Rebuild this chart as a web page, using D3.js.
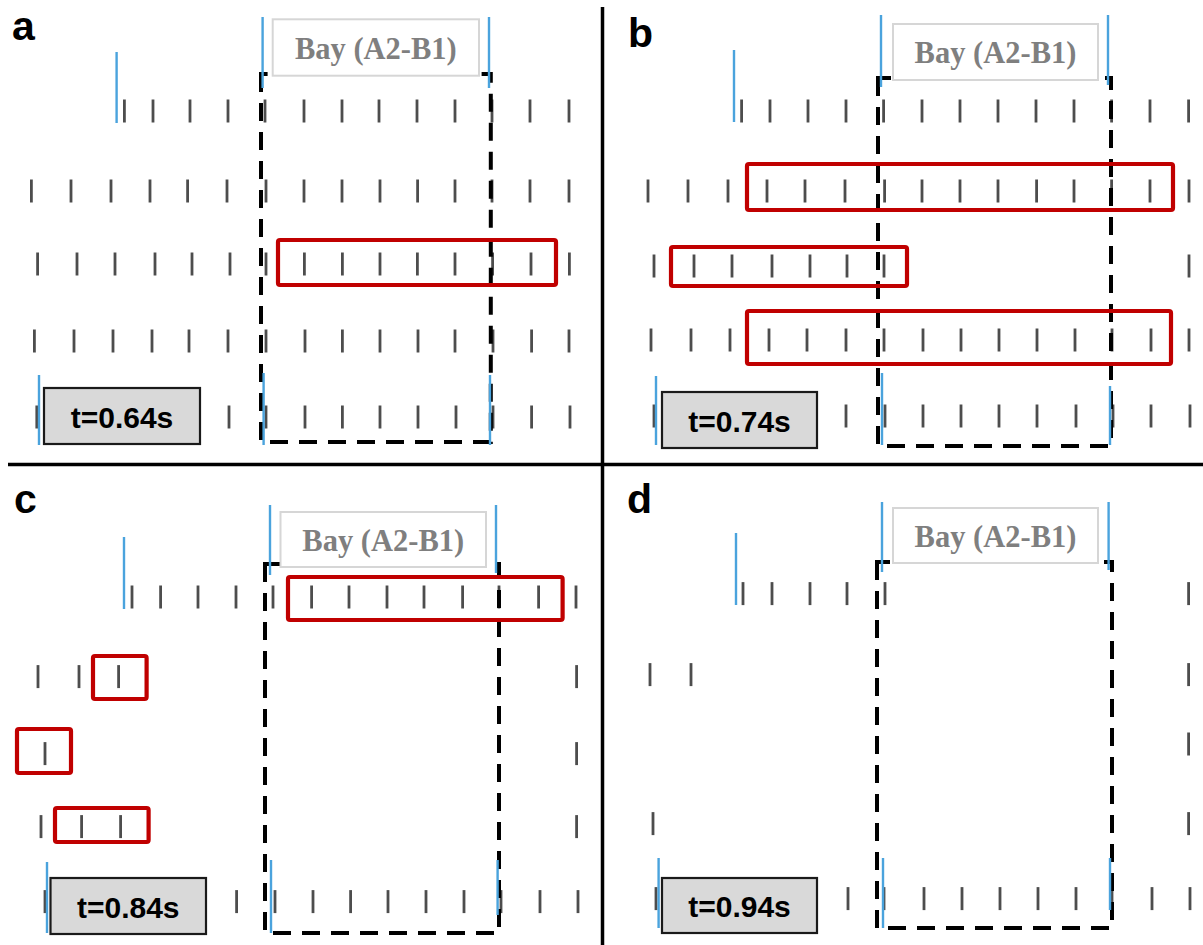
<!DOCTYPE html>
<html>
<head>
<meta charset="utf-8">
<script src="https://cdn.jsdelivr.net/npm/d3@7"></script>
<style>
  html, body { margin: 0; padding: 0; background: #fff; }
  svg { display: block; }
</style>
</head>
<body>
<svg id="fig" width="1203" height="945"></svg>
<script>
// ---- snapshots of the collapse sequence -------------------------------
const panelIds   = ["a", "b", "c", "d"];
const timeLabels = ["t=0.64s", "t=0.74s", "t=0.84s", "t=0.94s"];
const bayName    = "Bay (A2-B1)";

// storey levels (m, measured downward from the top of each frame)
const storeysA = [5.55, 9.55, 13.2, 17.05, 20.85];
const storeysB = [5.55, 9.55, 13.3, 17.0, 20.8];
const storeysC = [6.6, 10.58, 14.43, 18.08, 21.83];
const storeysD = [6.43, 10.48, 13.95, 17.93, 21.68];

// column positions on each storey (m, from the left edge of each frame)
const columnsA = [
  [6.22, 7.65, 9.5, 11.4, 13.25, 15.2, 17.1, 18.95, 20.85, 22.75, 24.6, 26.5, 28.45],
  [1.57, 3.55, 5.55, 7.5, 9.38, 11.35, 13.3, 15.2, 17.1, 19.0, 20.88, 22.75, 24.6, 26.5, 28.45],
  [1.88, 3.85, 5.75, 7.75, 9.6, 11.5, 13.3, 15.22, 17.12, 19.0, 20.87, 22.75, 24.63, 26.55, 28.47],
  [1.72, 3.7, 5.65, 7.6, 9.45, 11.4, 13.3, 15.25, 17.12, 19.0, 20.9, 22.75, 24.65, 26.58, 28.45],
  [1.84, 3.75, 5.7, 7.6, 9.5, 11.45, 13.3, 15.25, 17.12, 19.0, 20.9, 22.8, 24.65, 26.58, 28.5]
];
const columnsB = [
  [6.93, 8.35, 10.25, 12.15, 14.03, 15.95, 17.85, 19.75, 21.65, 23.55, 25.43, 27.35, 29.28],
  [2.25, 4.25, 6.25, 8.2, 10.1, 12.1, 14.08, 15.95, 17.85, 19.75, 21.68, 23.55, 25.43, 27.35, 29.3],
  [2.55, 4.55, 6.45, 8.45, 10.35, 12.2, 14.05, 29.3],
  [2.4, 4.4, 6.35, 8.3, 10.2, 12.15, 14.05, 16.0, 17.9, 19.8, 21.7, 23.6, 25.45, 27.4, 29.3],
  [2.55, 4.45, 6.4, 8.3, 10.2, 12.15, 14.1, 16.0, 17.9, 19.8, 21.7, 23.65, 25.5, 27.4, 29.35]
];
const columnsC = [
  [6.6, 8.03, 9.9, 11.8, 13.65, 15.58, 17.45, 19.35, 21.2, 23.13, 24.95, 26.93, 28.8],
  [1.9, 3.95, 5.93, 28.83],
  [2.25, 28.83],
  [2.05, 4.08, 6.03, 28.83],
  [2.25, 4.2, 6.1, 8.0, 9.9, 11.83, 13.75, 15.65, 17.53, 19.4, 21.3, 23.2, 25.05, 27.0, 28.9]
];
const columnsD = [
  [7.0, 8.45, 10.35, 12.2, 14.1, 29.28],
  [2.35, 4.4, 29.28],
  [29.28],
  [2.5, 29.28],
  [2.65, 4.55, 6.5, 8.4, 10.35, 12.25, 14.05, 16.05, 17.95, 19.85, 21.75, 23.65, 25.45, 27.45, 29.35]
];

// axis-line markers (m): x position, top and bottom
const gridMarksA = [
  {x: 5.83, y0: 2.6, y1: 6.15}, {x: 13.13, y0: 0.85, y1: 4.4}, {x: 24.45, y0: 0.85, y1: 4.4},
  {x: 1.95, y0: 18.75, y1: 22.25}, {x: 13.18, y0: 18.65, y1: 22.25}, {x: 24.5, y0: 18.75, y1: 22.25}
];
const gridMarksB = [
  {x: 6.55, y0: 2.5, y1: 6.1}, {x: 13.9, y0: 0.75, y1: 4.35}, {x: 25.25, y0: 0.75, y1: 4.25},
  {x: 2.65, y0: 18.8, y1: 22.25}, {x: 13.95, y0: 18.65, y1: 22.25}, {x: 25.35, y0: 19.3, y1: 22.25}
];
const gridMarksC = [
  {x: 6.2, y0: 3.6, y1: 7.2}, {x: 13.5, y0: 2.0, y1: 5.5}, {x: 24.8, y0: 2.0, y1: 5.4},
  {x: 2.35, y0: 19.85, y1: 23.4}, {x: 13.55, y0: 19.75, y1: 23.4}, {x: 24.88, y0: 19.75, y1: 22.5}
];
const gridMarksD = [
  {x: 6.65, y0: 3.4, y1: 7.0}, {x: 13.95, y0: 1.85, y1: 5.35}, {x: 25.28, y0: 1.85, y1: 5.25},
  {x: 2.78, y0: 19.65, y1: 23.15}, {x: 14.0, y0: 19.65, y1: 23.15}, {x: 25.35, y0: 19.65, y1: 22.25}
];

// removed bay outline (m)
const bayFrames = [
  {x0: 13.05, x1: 24.54, y0: 3.7, y1: 22.1},
  {x0: 13.75, x1: 25.4, y0: 3.9, y1: 22.3},
  {x0: 13.25, x1: 24.95, y0: 4.95, y1: 23.4},
  {x0: 13.7, x1: 25.45, y0: 4.85, y1: 23.15}
];

// failing column groups (m)
const failuresA = [{x0: 13.9, x1: 27.8, y0: 12.0, y1: 14.25}];
const failuresB = [
  {x0: 7.2, x1: 28.5, y0: 8.2, y1: 10.5},
  {x0: 3.4, x1: 15.2, y0: 12.35, y1: 14.3},
  {x0: 7.2, x1: 28.4, y0: 15.55, y1: 18.2}
];
const failuresC = [
  {x0: 14.4, x1: 28.13, y0: 5.6, y1: 7.75},
  {x0: 4.65, x1: 7.33, y0: 9.55, y1: 11.7},
  {x0: 0.85, x1: 3.55, y0: 13.2, y1: 15.4},
  {x0: 2.75, x1: 7.43, y0: 17.15, y1: 18.85}
];
const failuresD = [];

// ---- page layout --------------------------------------------------------
const layout = [
  {ox: 0,   oy: 0,   letter: [12, 40], bayBox: [272.7, 19.3, 206.3, 56.4], timeBox: [44, 388, 156, 56]},
  {ox: 603, oy: 0,   letter: [25, 47], bayBox: [290, 24, 205, 56],         timeBox: [59, 392, 155, 56]},
  {ox: 0,   oy: 465, letter: [14, 48], bayBox: [280.5, 47, 205.5, 55],     timeBox: [50.5, 413, 155.5, 56]},
  {ox: 603, oy: 465, letter: [24, 48], bayBox: [290, 43, 205, 55],         timeBox: [59, 413, 155, 55]}
];

const snapshots = [
  {storeys: storeysA, columns: columnsA, marks: gridMarksA, failures: failuresA},
  {storeys: storeysB, columns: columnsB, marks: gridMarksB, failures: failuresB},
  {storeys: storeysC, columns: columnsC, marks: gridMarksC, failures: failuresC},
  {storeys: storeysD, columns: columnsD, marks: gridMarksD, failures: failuresD}
];

const svg = d3.select("#fig");
svg.append("rect").attr("width", 1203).attr("height", 945).attr("fill", "#fff");

const tickLen = 23;

snapshots.forEach((snap, i) => {
  const L = layout[i];
  const x = d3.scaleLinear().domain([0, 30]).range([L.ox, L.ox + 600]);
  const y = d3.scaleLinear().domain([0, 24]).range([L.oy, L.oy + 480]);
  const g = svg.append("g").attr("class", "panel-" + panelIds[i]);

  // columns, one short stroke per column per storey
  const cols = snap.columns.flatMap((row, r) => row.map(c => ({x: c, y: snap.storeys[r]})));
  g.append("g").selectAll("line").data(cols).join("line")
    .attr("x1", d => x(d.x)).attr("x2", d => x(d.x))
    .attr("y1", d => y(d.y) - tickLen / 2).attr("y2", d => y(d.y) + tickLen / 2)
    .attr("stroke", "#4d4d4d").attr("stroke-width", 2.8);

  // outline of the removed bay
  const f = bayFrames[i];
  g.append("path")
    .attr("d", `M${x(f.x0)},${y(f.y0)}V${y(f.y1)}H${x(f.x1)}V${y(f.y0)}Z`)
    .attr("fill", "none").attr("stroke", "#000").attr("stroke-width", 4)
    .attr("stroke-dasharray", "18,11").attr("stroke-linejoin", "miter");

  // bay caption
  const [bx, by, bw, bh] = L.bayBox;
  g.append("rect")
    .attr("x", L.ox + bx).attr("y", L.oy + by).attr("width", bw).attr("height", bh)
    .attr("fill", "#fff").attr("stroke", "#d6d6d6").attr("stroke-width", 2);
  g.append("text")
    .attr("x", L.ox + bx + bw / 2).attr("y", L.oy + by + bh / 2 + 1)
    .attr("text-anchor", "middle").attr("dominant-baseline", "central")
    .attr("font-family", "'Liberation Serif', 'Times New Roman', serif")
    .attr("font-weight", "bold").attr("font-size", 30.5).attr("fill", "#7f7f7f")
    .text(bayName);

  // axis-line markers
  g.append("g").selectAll("line").data(snap.marks).join("line")
    .attr("x1", d => x(d.x)).attr("x2", d => x(d.x))
    .attr("y1", d => y(d.y0)).attr("y2", d => y(d.y1))
    .attr("stroke", "#4aa3dd").attr("stroke-width", 2.4);

  // failing column groups
  g.append("g").selectAll("rect").data(snap.failures).join("rect")
    .attr("x", d => x(d.x0)).attr("y", d => y(d.y0))
    .attr("width", d => x(d.x1) - x(d.x0)).attr("height", d => y(d.y1) - y(d.y0))
    .attr("rx", 2).attr("fill", "none").attr("stroke", "#c00000").attr("stroke-width", 4.2);

  // time stamp
  const [tx, ty, tw, th] = L.timeBox;
  g.append("rect")
    .attr("x", L.ox + tx).attr("y", L.oy + ty).attr("width", tw).attr("height", th)
    .attr("fill", "#d9d9d9").attr("stroke", "#1a1a1a").attr("stroke-width", 2.2);
  g.append("text")
    .attr("x", L.ox + tx + tw / 2).attr("y", L.oy + ty + th / 2 + 1)
    .attr("text-anchor", "middle").attr("dominant-baseline", "central")
    .attr("font-family", "'Liberation Sans', Arial, sans-serif")
    .attr("font-weight", "bold").attr("font-size", 30).attr("fill", "#000")
    .text(timeLabels[i]);

  // panel letter
  g.append("text")
    .attr("x", L.ox + L.letter[0]).attr("y", L.oy + L.letter[1])
    .attr("font-family", "'Liberation Sans', Arial, sans-serif")
    .attr("font-weight", "bold").attr("font-size", 41).attr("fill", "#000")
    .text(panelIds[i]);
});

// dividers between the four snapshots
svg.append("line").attr("x1", 602.5).attr("x2", 602.5).attr("y1", 7).attr("y2", 945)
  .attr("stroke", "#000").attr("stroke-width", 3.5);
svg.append("line").attr("x1", 8).attr("x2", 1203).attr("y1", 464.5).attr("y2", 464.5)
  .attr("stroke", "#000").attr("stroke-width", 3.5);
</script>
</body>
</html>
